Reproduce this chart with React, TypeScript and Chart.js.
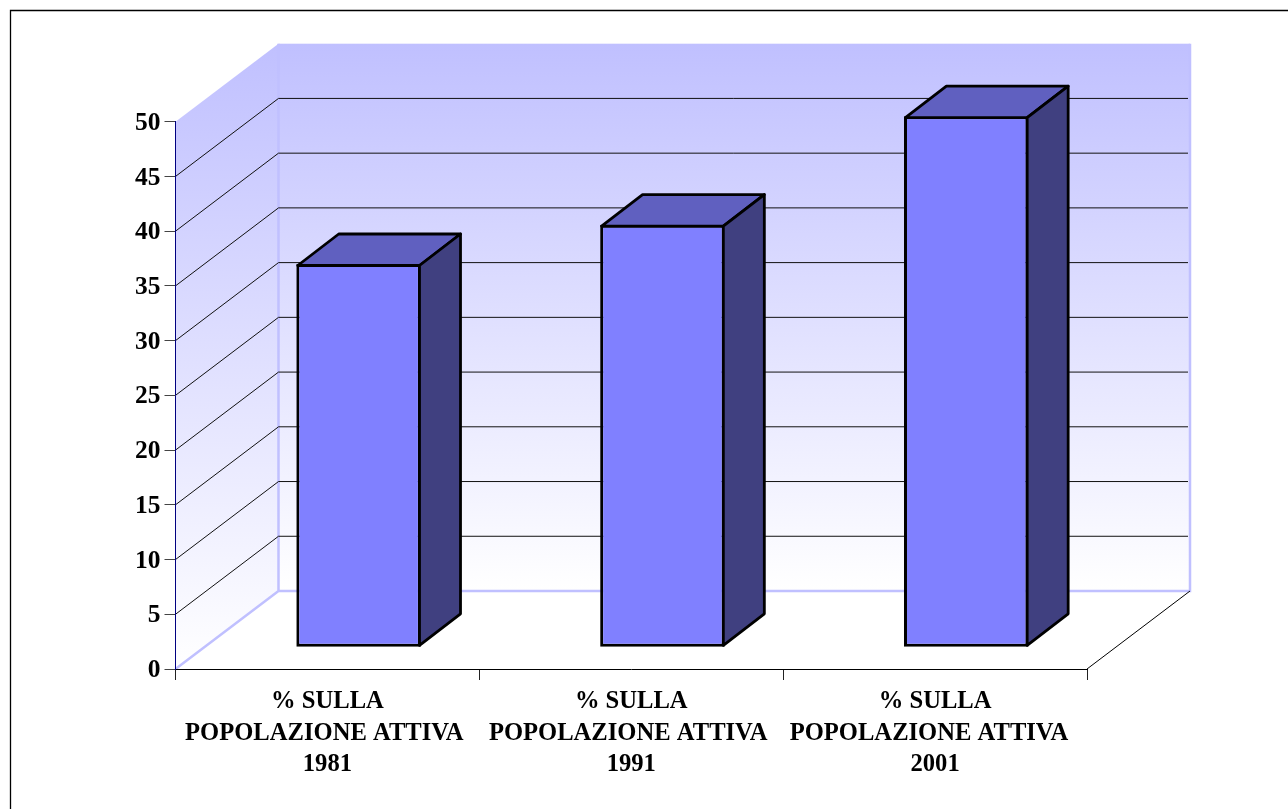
import React, { useEffect, useRef } from "react";
import { Chart, registerables } from "chart.js";

Chart.register(...registerables);

const categories = [
  ["% SULLA", "POPOLAZIONE ATTIVA ", "1981"],
  ["% SULLA", "POPOLAZIONE ATTIVA ", "1991"],
  ["% SULLA", "POPOLAZIONE ATTIVA  ", "2001"],
];
const values = [35, 38.6, 48.5];
const gridValues = [5, 10, 15, 20, 25, 30, 35, 40, 45];

const WALL_DX = 103;
const WALL_DY = -78;
const BAR_SHIFT_X = 31.2;
const BAR_SHIFT_Y = -21.8;
const BAR_DEPTH_X = 41;
const BAR_DEPTH_Y = -31.5;
const FONT = '"Liberation Serif"';

const scene = {
  id: "scene",
  beforeDraw(chart: any) {
    const { ctx, chartArea: a, scales } = chart;
    const y = scales.y;
    const y0 = y.getPixelForValue(0);
    const y50 = y.getPixelForValue(50);
    const bx0 = a.left + WALL_DX;
    const bx1 = a.right + WALL_DX;
    const by0 = y0 + WALL_DY;
    const by1 = y50 + WALL_DY;
    ctx.save();
    // page frame
    ctx.strokeStyle = "#000";
    ctx.lineWidth = 1.3;
    ctx.beginPath();
    ctx.moveTo(10.5, chart.height + 2);
    ctx.lineTo(10.5, 10.5);
    ctx.lineTo(chart.width + 2, 10.5);
    ctx.stroke();

    const g = ctx.createLinearGradient(0, by1, 0, by0);
    g.addColorStop(0, "#c0c0ff");
    g.addColorStop(1, "#ffffff");
    ctx.fillStyle = g;
    ctx.fillRect(bx0, by1, bx1 - bx0, by0 - by1);
    const gs = ctx.createLinearGradient(0, by1, 0, y0);
    gs.addColorStop(0, "#c0c0ff");
    gs.addColorStop(1, "#ffffff");
    ctx.fillStyle = gs;
    ctx.beginPath();
    ctx.moveTo(a.left, y0);
    ctx.lineTo(a.left, y50);
    ctx.lineTo(bx0, by1);
    ctx.lineTo(bx0, by0);
    ctx.closePath();
    ctx.fill();

    // wall edges
    ctx.strokeStyle = "#c0c0ff";
    ctx.lineWidth = 2.5;
    ctx.beginPath();
    ctx.moveTo(bx0, by1);
    ctx.lineTo(bx0, by0);
    ctx.lineTo(bx1, by0);
    ctx.lineTo(bx1, by1);
    ctx.moveTo(a.left, y0);
    ctx.lineTo(bx0, by0);
    ctx.stroke();

    // floor edge
    ctx.strokeStyle = "#000";
    ctx.lineWidth = 1;
    ctx.beginPath();
    ctx.moveTo(a.right, y0);
    ctx.lineTo(bx1, by0);
    ctx.stroke();

    // gridlines on side and back walls
    ctx.strokeStyle = "#111";
    ctx.lineWidth = 1;
    ctx.beginPath();
    for (const v of gridValues) {
      const py = y.getPixelForValue(v);
      ctx.moveTo(a.left, py);
      ctx.lineTo(bx0, py + WALL_DY);
      ctx.lineTo(bx1 - 2, py + WALL_DY);
    }
    ctx.stroke();
    ctx.restore();
  },
  beforeDatasetDraw(chart: any) {
    chart.ctx.save();
    chart.ctx.translate(BAR_SHIFT_X, BAR_SHIFT_Y);
  },
  afterDatasetDraw(chart: any, args: any) {
    const { ctx } = chart;
    const meta = chart.getDatasetMeta(args.index);
    ctx.lineWidth = 2.8;
    ctx.strokeStyle = "#000";
    ctx.lineJoin = "round";
    for (const el of meta.data) {
      const l = el.x - el.width / 2 + 1.4;
      const r = el.x + el.width / 2 - 1.4;
      const t = el.y + 1.4;
      const b = el.base - 1.4;
      ctx.fillStyle = "#6060c0";
      ctx.beginPath();
      ctx.moveTo(l, t);
      ctx.lineTo(l + BAR_DEPTH_X, t + BAR_DEPTH_Y);
      ctx.lineTo(r + BAR_DEPTH_X, t + BAR_DEPTH_Y);
      ctx.lineTo(r, t);
      ctx.closePath();
      ctx.fill();
      ctx.stroke();
      ctx.fillStyle = "#404080";
      ctx.beginPath();
      ctx.moveTo(r, t);
      ctx.lineTo(r + BAR_DEPTH_X, t + BAR_DEPTH_Y);
      ctx.lineTo(r + BAR_DEPTH_X, b + BAR_DEPTH_Y);
      ctx.lineTo(r, b);
      ctx.closePath();
      ctx.fill();
      ctx.stroke();
    }
    ctx.restore();
  },
};

export default function App() {
  const ref = useRef<HTMLCanvasElement>(null);
  useEffect(() => {
    document.body.style.margin = "0";
    document.body.style.background = "#fff";
    const chart = new Chart(ref.current as HTMLCanvasElement, {
      type: "bar",
      data: {
        labels: categories as any,
        datasets: [
          {
            data: values,
            backgroundColor: "#8080ff",
            borderColor: "#000",
            borderWidth: 3,
            borderSkipped: false,
            barPercentage: 0.41,
            categoryPercentage: 1,
            clip: false as any,
          },
        ],
      },
      plugins: [scene],
      options: {
        animation: false,
        responsive: false,
        devicePixelRatio: 1,
        layout: { padding: { top: 121.7, right: 201, left: 0, bottom: 0 } },
        plugins: { legend: { display: false }, tooltip: { enabled: false }, title: { display: false } },
        scales: {
          x: {
            afterFit: (s: any) => {
              s.height = 140;
            },
            border: { color: "#000", width: 1 },
            grid: { drawOnChartArea: false, drawTicks: true, tickLength: 11, tickColor: "#222", offset: true },
            ticks: {
              color: "#000",
              maxRotation: 0,
              minRotation: 0,
              autoSkip: false,
              padding: 6,
              font: { family: FONT, weight: "bold", size: 24.6, lineHeight: "31.5px" as any },
            },
          },
          y: {
            min: 0,
            max: 50,
            afterFit: (s: any) => {
              s.width = 175.5;
            },
            border: { color: "#000080", width: 1 },
            grid: { drawOnChartArea: false, drawTicks: true, tickLength: 11, tickColor: "#444" },
            ticks: {
              stepSize: 5,
              color: "#000",
              padding: 4,
              callback: (v: any) => ["", String(v)],
              font: { family: FONT, weight: "bold", size: 25.5, lineHeight: "3px" as any },
            },
          },
        },
      } as any,
    });
    return () => chart.destroy();
  }, []);
  return <canvas ref={ref} width={1288} height={809} style={{ display: "block", width: 1288, height: 809 }} />;
}
